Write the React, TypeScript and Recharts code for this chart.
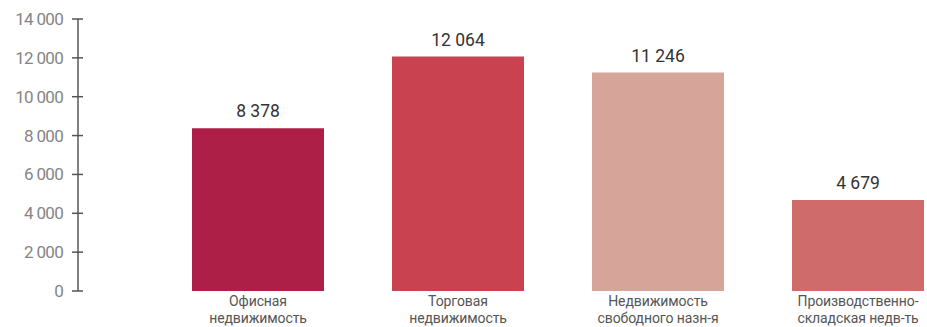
import { Bar, BarChart, Cell, LabelList, XAxis, YAxis } from "recharts"

// Стоимость по сегментам недвижимости
const categories = [
  ["Офисная", "недвижимость"],
  ["Торговая", "недвижимость"],
  ["Недвижимость", "свободного назн-я"],
  ["Производственно-", "складская недв-ть"],
]
const values = [8378, 12064, 11246, 4679]
const yTicks = [0, 2000, 4000, 6000, 8000, 10000, 12000, 14000]
const COLORS = ["#ad1f46", "#c8424f", "#d7a49a", "#cf6b6b"]

const data = categories.map((lines, i) => ({ name: lines.join(" "), idx: i, value: values[i] }))

const AXIS_X = 78
const FONT = "Roboto, 'Noto Sans', sans-serif"

// пробел как разделитель тысяч
const fmt = (v: number) => String(v).replace(/\B(?=(\d{3})+(?!\d))/g, " ")

function YTick({ y, payload }: any) {
  return (
    <g>
      <line x1={AXIS_X - 6} x2={AXIS_X + 5} y1={y} y2={y} stroke="#555" strokeWidth={1.5} />
      <text x={AXIS_X - 15} y={y} dy={6} textAnchor="end" fill="#858585" fontSize={17} fontFamily={FONT} letterSpacing={-0.7}>
        {fmt(payload.value)}
      </text>
    </g>
  )
}

// подпись категории в две строки
function XTick({ x, y, payload }: any) {
  const lines = categories[payload.index] ?? []
  return (
    <g>
      {lines.map((l, i) => (
        <text
          key={i}
          x={x}
          y={y + 13 + i * 16.5}
          textAnchor="middle"
          fill="#555"
          fontSize={14}
          fontFamily={FONT}
          letterSpacing={-0.1}
        >
          {l}
        </text>
      ))}
    </g>
  )
}

export default function App() {
  return (
    <div style={{ width: 927, height: 327, overflow: "hidden" }}>
      <style>{`body{margin:0;overflow:hidden}`}</style>
      <BarChart
        width={960}
        height={327}
        data={data}
        margin={{ top: 19, right: 0, bottom: 0, left: 0 }}
        barSize={132}
      >
        <XAxis
          dataKey="name"
          height={36}
          axisLine={false}
          tickLine={false}
          tickSize={0}
          interval={0}
          padding={{ left: 80, right: 2 }}
          tick={<XTick />}
        />
        <YAxis
          width={AXIS_X}
          domain={[0, 14000]}
          ticks={yTicks}
          interval={0}
          axisLine={{ stroke: "#808080", strokeWidth: 2 }}
          tickLine={false}
          tick={<YTick />}
        />
        <Bar dataKey="value" isAnimationActive={false}>
          {data.map((_, i) => (
            <Cell key={i} fill={COLORS[i]} />
          ))}
          <LabelList
            dataKey="value"
            position="top"
            offset={11}
            formatter={(v: any) => fmt(Number(v))}
            fill="#333"
            fontSize={17.5}
            fontWeight={400}
            fontFamily={FONT}
          />
        </Bar>
      </BarChart>
    </div>
  )
}
